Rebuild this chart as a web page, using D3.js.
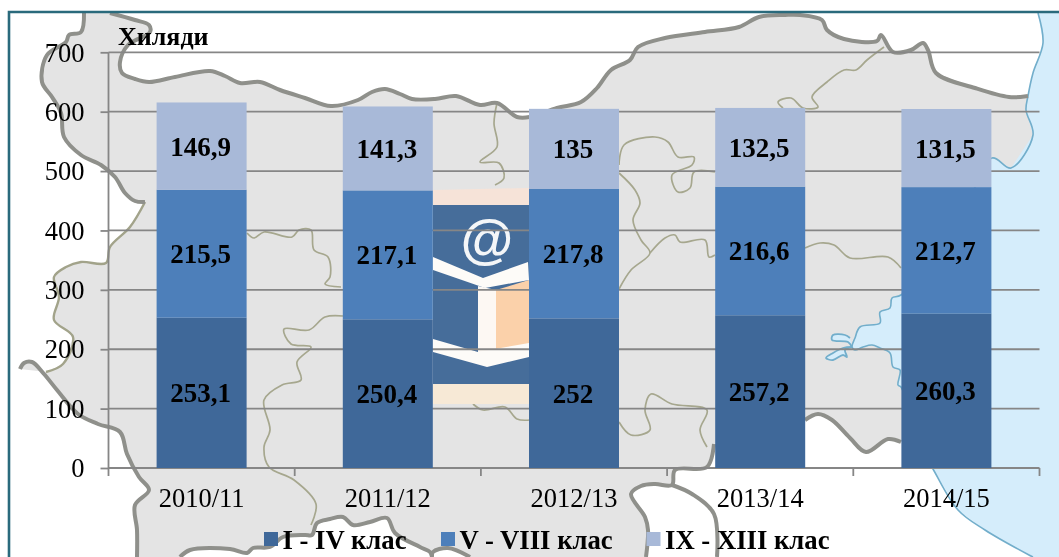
<!DOCTYPE html>
<html><head><meta charset="utf-8">
<script src="https://cdn.jsdelivr.net/npm/d3@7/dist/d3.min.js"></script>
<style>
html,body{margin:0;padding:0;background:#fff;overflow:hidden}
svg{display:block;filter:blur(0.4px)}
text{font-family:"Liberation Serif","Times New Roman",serif;fill:#000}
</style></head><body>
<svg id="c" width="1059" height="557"></svg>
<script>
const categories=["2010/11","2011/12","2012/13","2013/14","2014/15"];
const grades1to4=[253.1,250.4,252,257.2,260.3];
const grades5to8=[215.5,217.1,217.8,216.6,212.7];
const grades9to13=[146.9,141.3,135,132.5,131.5];
const seriesNames=["I - IV клас","V - VIII клас","IX - XIII клас"];
const seriesColors=["#3f6899","#4d7fba","#a8b9d8"];
const yTicks=[0,100,200,300,400,500,600,700];
const yUnit="Хиляди";

// decorative backdrop (map of Bulgaria), traced in pixel space
const northBorder=[[110,13],[135,20],[149,25],[150,32],[128,45],[120,62],[122,73],[135,79],[149,82],[175,77],[210,71],[225,76],[240,83],[260,82],[280,90],[305,98],[331,106],[358,100],[372,92],[385,89],[400,94],[412,99],[435,99],[456,96],[480,105],[497,103],[517,117],[530,117],[557,108],[581,102],[597,88],[611,70],[630,60],[638,47],[665,38],[705,32],[739,27],[759,17],[785,15],[800,15],[822,20],[827,30],[844,39],[877,41],[881,35],[893,52],[911,50],[923,43],[928,50],[936,73],[975,88],[1009,97],[1028,96]];
const westBorder=[[84,13],[81,32],[69,35],[66,42],[47,55],[42,82],[52,97],[61,113],[64,137],[81,155],[101,165],[115,177],[125,193],[135,201],[145,202]];
const westThin=[[145,202],[130,227],[110,247],[106,263],[81,262],[66,267],[54,277],[59,297],[54,320],[73,337],[63,364],[46,372]];
const swBorder=[[20,369],[24,363],[32,362],[44,374],[57,390],[78,414],[98,424],[120,432],[127,454],[139,477],[149,490],[135,505],[137,530],[137,557]];
const greekCoastA=[[180,557],[190,550],[230,549],[247,553],[253,548],[270,547],[283,537],[305,535],[312,535],[317,523],[330,519],[343,517],[353,525],[370,522],[387,518],[395,533],[420,547],[430,552],[432,557]];
const greekCoastB=[[432,557],[433,552],[448,548],[470,557]];
const greekCoastC=[[646,557],[648,530],[645,517],[631,494],[641,486],[655,484],[672,485],[675,470],[707,467],[714,444]];
const turkeyBorder=[[672,485],[692,494],[714,514],[717,557]];
const southBorder=[[805,420],[818,414],[832,420],[850,438],[866,452],[888,439],[901,442]];
const landEast=[[925,442],[950,300],[1040,140]];
const seaCoast=[[1038,13],[1043,43],[1033,73],[1028,96],[1026,110],[1033,135],[1011,168],[992,158],[960,220],[901,295],[892,298],[890,308],[880,312],[880,323],[860,327],[855,338],[852,347],[855,350],[863,347],[872,345],[880,348],[890,353],[893,367],[900,370],[898,385],[901,387],[915,430],[925,455],[933,469],[958,510],[985,530],[1029,555],[1033,557]];
const lakes=[[[850,338],[845,335],[833,335],[832,340],[848,342],[852,347]],[[852,347],[843,348],[833,353],[826,358],[833,360],[843,355],[847,357],[845,350],[852,347]]];
const innerBorders=[
[[247,233],[254,238],[264,232],[292,237],[299,230],[311,230],[314,250],[328,257],[330,277],[325,284],[341,287]],
[[343,316],[325,317],[309,330],[284,329],[291,344],[311,347],[297,362],[301,380],[282,385],[264,400],[270,430],[264,447],[269,467],[294,480],[316,504],[311,525]],
[[497,103],[494,123],[497,147],[480,162],[499,163],[504,178],[495,185]],
[[619,165],[624,145],[655,137],[668,142],[678,157],[694,157],[692,165],[672,175],[678,192],[690,188],[694,172],[715,172]],
[[619,173],[635,190],[640,203],[633,220],[641,240],[650,253],[631,270],[619,289]],
[[650,253],[665,238],[675,235],[680,242],[705,240],[709,257],[715,255]],
[[805,248],[820,243],[834,245],[850,258],[888,257],[901,268]],
[[884,47],[867,60],[856,70],[844,70],[827,82],[812,97],[818,107],[803,108],[791,98],[778,102],[783,108]],
[[619,422],[631,435],[650,430],[645,410],[651,394],[672,404],[707,410],[700,430],[707,447]],
[[473,404],[483,410],[505,407],[517,419],[530,420]]];
// logo
const logoBlue=[[433,205],[529,205],[529,384],[433,384]];
const logoTopPatch=[[433,190],[529,188],[529,205],[433,205]];
const logoBottomPatch=[[433,384],[529,384],[529,404],[433,404]];
const logoChevronTop=[[433,257],[483,278],[528,262],[529,280],[485,288],[433,270]];
const logoChevronBottom=[[433,339],[478,352],[529,343],[529,357],[487,367],[433,352]];
const logoOrange=[[496,290],[529,280],[529,345],[496,352]];
const logoWhite=[[478,286],[496,290],[496,352],[478,352]];

const svg=d3.select("#c");
const poly=pts=>"M"+pts.map(p=>p.join(",")).join("L")+"Z";
const curve=d3.line().curve(d3.curveCatmullRom.alpha(.5));

const backdrop=svg.append("g");
const land=[...westBorder,...westThin,...swBorder,[180,557],...greekCoastA,...greekCoastB,...greekCoastC,...southBorder,...landEast,...northBorder.slice().reverse()];
backdrop.append("path").attr("d",poly(land)).attr("fill","#e4e4e4");
backdrop.append("path").attr("d",poly([...seaCoast,[1059,557],[1059,13]])).attr("fill","#d5edfb");
lakes.forEach(l=>backdrop.append("path").attr("d",curve(l)).attr("fill","#d5edfb").attr("stroke","#72aecb").attr("stroke-width",1.8));
backdrop.append("path").attr("d",curve(seaCoast)).attr("fill","none").attr("stroke","#72aecb").attr("stroke-width",1.6);
innerBorders.forEach(b=>backdrop.append("path").attr("d",curve(b)).attr("fill","none").attr("stroke","#a6a78e").attr("stroke-width",1.7));
backdrop.append("path").attr("d",curve(westThin)).attr("fill","none").attr("stroke","#a2a38a").attr("stroke-width",2.4);
[northBorder,westBorder,swBorder,greekCoastA,greekCoastB,greekCoastC,turkeyBorder,southBorder].forEach(b=>
  backdrop.append("path").attr("d",curve(b)).attr("fill","none").attr("stroke","#8f908b").attr("stroke-width",4).attr("stroke-linejoin","round"));

const logo=svg.append("g");
logo.append("path").attr("d",poly(logoTopPatch)).attr("fill","#f6e3d8");
logo.append("path").attr("d",poly(logoBottomPatch)).attr("fill","#f7e9d6");
logo.append("path").attr("d",poly(logoBlue)).attr("fill","#466d9a");
logo.append("path").attr("d",poly(logoOrange)).attr("fill","#fbd1aa");
logo.append("path").attr("d",poly(logoWhite)).attr("fill","#fdf8f3");
logo.append("path").attr("d",poly(logoChevronTop)).attr("fill","#fdfbf8");
logo.append("path").attr("d",poly(logoChevronBottom)).attr("fill","#fdfbf8");
logo.append("text").text("@").attr("x",486).attr("y",258).attr("text-anchor","middle")
  .style("font-family","'Liberation Sans'").style("font-size","54px").style("font-weight","bold").style("font-style","italic").style("fill","#f4f6f8");

const y=d3.scaleLinear().domain([0,700]).range([468,52.3]);
const x=d3.scaleBand().domain(categories).range([108.5,1039.5]).paddingInner(1-90/186.2).paddingOuter((1-90/186.2)/2);

const axisCol="#868686";
const yAxis=svg.append("g").attr("transform","translate(108.5,0)")
  .call(d3.axisLeft(y).tickValues(yTicks).tickSize(8).tickPadding(16));
yAxis.selectAll("line").attr("stroke",axisCol).attr("stroke-width",1.8);
yAxis.select(".domain").attr("stroke",axisCol).attr("stroke-width",1.8).attr("d",`M0,${y(700)}V${y(0)}`);
yAxis.selectAll("text").style("font-size","26.5px").style("font-family","'Liberation Serif'").attr("dy","0.33em").attr("fill","#000");

svg.append("g").selectAll("line").data(yTicks).join("line")
  .attr("x1",108.5).attr("x2",1039.5).attr("y1",d=>y(d)).attr("y2",d=>y(d))
  .attr("stroke",axisCol).attr("stroke-width",1.8);

const xAxis=svg.append("g").attr("transform",`translate(0,${y(0)})`)
  .call(d3.axisBottom(x).tickSize(0).tickPadding(20));
xAxis.select(".domain").remove();
xAxis.selectAll("text").style("font-size","26.5px").style("font-family","'Liberation Serif'").attr("fill","#000");
xAxis.selectAll("line.sep").data(d3.range(categories.length+1)).join("line").attr("class","sep")
  .attr("x1",i=>x.range()[0]+i*x.step()).attr("x2",i=>x.range()[0]+i*x.step())
  .attr("y1",0).attr("y2",8).attr("stroke",axisCol).attr("stroke-width",1.8);

const rows=categories.map((c,i)=>({c,a:grades1to4[i],b:grades5to8[i],d:grades9to13[i]}));
const stack=d3.stack().keys(["a","b","d"])(rows);
const fmt=v=>String(v).replace(".",",");
stack.forEach((s,k)=>{
  svg.append("g").selectAll("rect").data(s).join("rect")
    .attr("x",d=>x(d.data.c)).attr("width",x.bandwidth())
    .attr("y",d=>y(d[1])).attr("height",d=>y(d[0])-y(d[1]))
    .attr("fill",seriesColors[k]);
});
stack.forEach((s,k)=>{
  svg.append("g").selectAll("text").data(s).join("text")
    .attr("x",d=>x(d.data.c)+x.bandwidth()/2-1)
    .attr("y",d=>(y(d[0])+y(d[1]))/2+9.5)
    .attr("text-anchor","middle").style("font-size","27px").style("font-weight","bold")
    .text(d=>fmt([d.data.a,d.data.b,d.data.d][k]));
});
svg.append("text").text(yUnit).attr("x",118).attr("y",44.5).style("font-size","26px").style("font-weight","bold");

const legendX=[264,441,646.5];
const lg=svg.append("g").selectAll("g").data(seriesNames).join("g").attr("transform",(d,i)=>`translate(${legendX[i]},532)`);
lg.append("rect").attr("width",14).attr("height",14).attr("fill",(d,i)=>seriesColors[i]);
lg.append("text").text(d=>d).attr("x",18.5).attr("y",17).style("font-size","26.7px").style("font-weight","bold");

// frame
svg.append("path").attr("d","M1059,12H9V557").attr("fill","none").attr("stroke","#2a6a7c").attr("stroke-width",2.6);
</script></body></html>
